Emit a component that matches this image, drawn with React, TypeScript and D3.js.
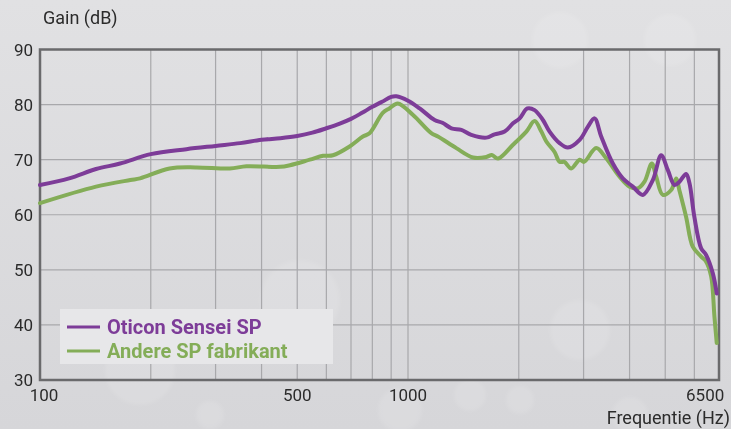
import { useEffect, useRef } from 'react';
import * as d3 from 'd3';

// frequency response readings (Hz, dB)
const oticonFreq = [100, 120, 142, 165, 200, 250, 300, 350, 400, 450, 500, 550, 600, 650, 700, 750, 800, 850, 900, 930, 1000, 1076, 1181, 1240, 1312, 1396, 1486, 1633, 1719, 1831, 1929, 2011, 2110, 2208, 2326, 2425, 2582, 2719, 2927, 3083, 3213, 3350, 3603, 3834, 4083, 4345, 4627, 4875, 5083, 5300, 5467, 5698, 5820, 6000, 6261, 6457, 6732, 6902];
const oticonGain = [65.4, 66.6, 68.3, 69.3, 71.0, 71.9, 72.5, 73.0, 73.6, 73.9, 74.3, 74.9, 75.7, 76.5, 77.4, 78.5, 79.6, 80.5, 81.4, 81.5, 80.7, 79.3, 77.2, 76.7, 75.7, 75.4, 74.5, 74.0, 74.6, 75.1, 76.6, 77.5, 79.3, 79.0, 77.2, 75.1, 73.0, 72.2, 73.6, 76.0, 77.5, 74.2, 69.3, 66.6, 65.1, 63.6, 66.3, 70.8, 68.1, 65.4, 66.0, 67.4, 65.7, 59.6, 53.9, 52.7, 49.4, 45.7];

const otherFreq = [100, 142, 176, 187, 225, 266, 328, 364, 449, 478, 541, 588, 625, 694, 754, 786, 854, 890, 938, 1032, 1157, 1206, 1353, 1502, 1633, 1690, 1756, 1929, 2097, 2208, 2303, 2376, 2502, 2582, 2660, 2777, 2927, 3010, 3246, 3456, 3757, 3999, 4212, 4392, 4598, 4726, 4925, 5190, 5356, 5460, 5698, 5940, 6261, 6457, 6665, 6803, 6902];
const otherGain = [62.1, 65.1, 66.3, 66.6, 68.4, 68.6, 68.4, 68.8, 68.7, 69.0, 70.0, 70.7, 70.8, 72.4, 74.2, 74.8, 78.5, 79.3, 80.2, 78.1, 74.8, 74.2, 72.1, 70.4, 70.5, 70.85, 70.2, 72.7, 75.1, 77.0, 75.1, 73.3, 71.4, 69.6, 69.6, 68.4, 70.0, 69.6, 72.1, 70.25, 66.9, 65.1, 64.8, 66.0, 69.3, 66.9, 63.6, 64.5, 66.6, 64.5, 59.6, 54.2, 52.4, 51.5, 48.8, 41.5, 36.7];

const yTicks = [30, 40, 50, 60, 70, 80, 90];
const xLabels = [100, 500, 1000, 6500];
const xGrid = [200, 300, 400, 500, 600, 700, 800, 900, 1000, 2000, 3000, 4000, 5000, 6000];

const seriesNames = ['Oticon Sensei SP', 'Andere SP fabrikant'];
const seriesColors = ['#7d3c98', '#84ad58'];

const W = 731;
const H = 429;
const font = 'Roboto, "Open Sans", sans-serif';

function GainChart() {
  const svgRef = useRef<SVGSVGElement>(null);

  useEffect(() => {
    if (!svgRef.current) return;
    const svg = d3.select(svgRef.current);
    svg.selectAll('*').remove();

    const x = d3.scaleLog().domain([100, 7000]).range([40, 719]);
    const y = d3.scaleLinear().domain([30, 90]).range([380, 49.5]);

    // background
    const defs = svg.append('defs');
    const grad = defs.append('linearGradient').attr('id', 'bg').attr('x1', 0).attr('y1', 0).attr('x2', 0).attr('y2', 1);
    grad.append('stop').attr('offset', '0%').attr('stop-color', '#e1e1e3');
    grad.append('stop').attr('offset', '100%').attr('stop-color', '#d6d6d9');
    const blur = defs.append('filter').attr('id', 'soft');
    blur.append('feGaussianBlur').attr('stdDeviation', 2);
    svg.append('rect').attr('width', W).attr('height', H).attr('fill', 'url(#bg)');

    const bokeh = [
      [560, 40, 28], [670, 40, 26], [140, 370, 35], [400, 410, 22], [470, 395, 16],
      [520, 400, 14], [580, 330, 30], [300, 300, 40], [630, 415, 18], [210, 415, 14],
    ];
    svg.append('g')
      .attr('filter', 'url(#soft)')
      .selectAll('circle')
      .data(bokeh)
      .join('circle')
      .attr('cx', (d) => d[0])
      .attr('cy', (d) => d[1])
      .attr('r', (d) => d[2])
      .attr('fill', '#ffffff')
      .attr('opacity', 0.12);

    // grid
    const grid = svg.append('g').attr('stroke', '#a8a8ab').attr('stroke-width', 1.2);
    grid.selectAll('.gx')
      .data(xGrid)
      .join('line')
      .attr('x1', (d) => x(d))
      .attr('x2', (d) => x(d))
      .attr('y1', y(90))
      .attr('y2', y(30));
    grid.selectAll('.gy')
      .data(yTicks.slice(1, -1))
      .join('line')
      .attr('x1', x(100))
      .attr('x2', x(7000))
      .attr('y1', (d) => y(d))
      .attr('y2', (d) => y(d));

    // frame
    svg.append('rect')
      .attr('x', x(100))
      .attr('y', y(90))
      .attr('width', x(7000) - x(100))
      .attr('height', y(30) - y(90))
      .attr('fill', 'none')
      .attr('stroke', '#6a6a6c')
      .attr('stroke-width', 2.5);

    // curves
    const line = d3.line<[number, number]>()
      .x((d) => x(d[0]))
      .y((d) => y(d[1]))
      .curve(d3.curveCatmullRom.alpha(0.5));

    const series: [number, number][][] = [
      oticonFreq.map((f, i) => [f, oticonGain[i]]),
      otherFreq.map((f, i) => [f, otherGain[i]]),
    ];
    // draw green first so purple sits on top
    [1, 0].forEach((k) => {
      svg.append('path')
        .attr('d', line(series[k]))
        .attr('fill', 'none')
        .attr('stroke', seriesColors[k])
        .attr('stroke-width', 4)
        .attr('stroke-linejoin', 'round')
        .attr('stroke-linecap', 'round');
    });

    // y tick labels
    svg.append('g')
      .selectAll('text')
      .data(yTicks)
      .join('text')
      .attr('x', 33)
      .attr('y', (d) => y(d))
      .attr('dy', '0.36em')
      .attr('text-anchor', 'end')
      .attr('font-family', font)
      .attr('font-size', 17)
      .attr('fill', '#2b2b2b')
      .text((d) => d);

    // x tick labels
    svg.append('g')
      .selectAll('text')
      .data(xLabels)
      .join('text')
      .attr('x', (d) => (d === 100 ? x(d) + 4 : d === 6500 ? x(d) - 2 : x(d)))
      .attr('y', 401)
      .attr('text-anchor', 'middle')
      .attr('font-family', font)
      .attr('font-size', 17)
      .attr('fill', '#2b2b2b')
      .text((d) => d);

    // axis titles
    svg.append('text')
      .attr('x', 43)
      .attr('y', 24)
      .attr('font-family', font)
      .attr('font-size', 18)
      .attr('fill', '#2b2b2b')
      .text('Gain (dB)');
    svg.append('text')
      .attr('x', 730)
      .attr('y', 424)
      .attr('text-anchor', 'end')
      .attr('font-family', font)
      .attr('font-size', 18)
      .attr('fill', '#2b2b2b')
      .text('Frequentie (Hz)');

    // legend
    const lg = svg.append('g');
    lg.append('rect')
      .attr('x', 60)
      .attr('y', 309)
      .attr('width', 273)
      .attr('height', 55)
      .attr('fill', '#e7e7e9');
    seriesNames.forEach((name, i) => {
      const cy = 327 + i * 24;
      lg.append('line')
        .attr('x1', 67)
        .attr('x2', 100)
        .attr('y1', cy)
        .attr('y2', cy)
        .attr('stroke', seriesColors[i])
        .attr('stroke-width', 3);
      lg.append('text')
        .attr('x', 107)
        .attr('y', cy)
        .attr('dy', '0.36em')
        .attr('font-family', font)
        .attr('font-size', 20)
        .attr('font-weight', 700)
        .attr('fill', seriesColors[i])
        .text(name);
    });
  }, []);

  return <svg ref={svgRef} width={W} height={H} style={{ position: 'absolute', left: 0, top: 0 }} />;
}

export default function App() {
  return <GainChart />;
}
